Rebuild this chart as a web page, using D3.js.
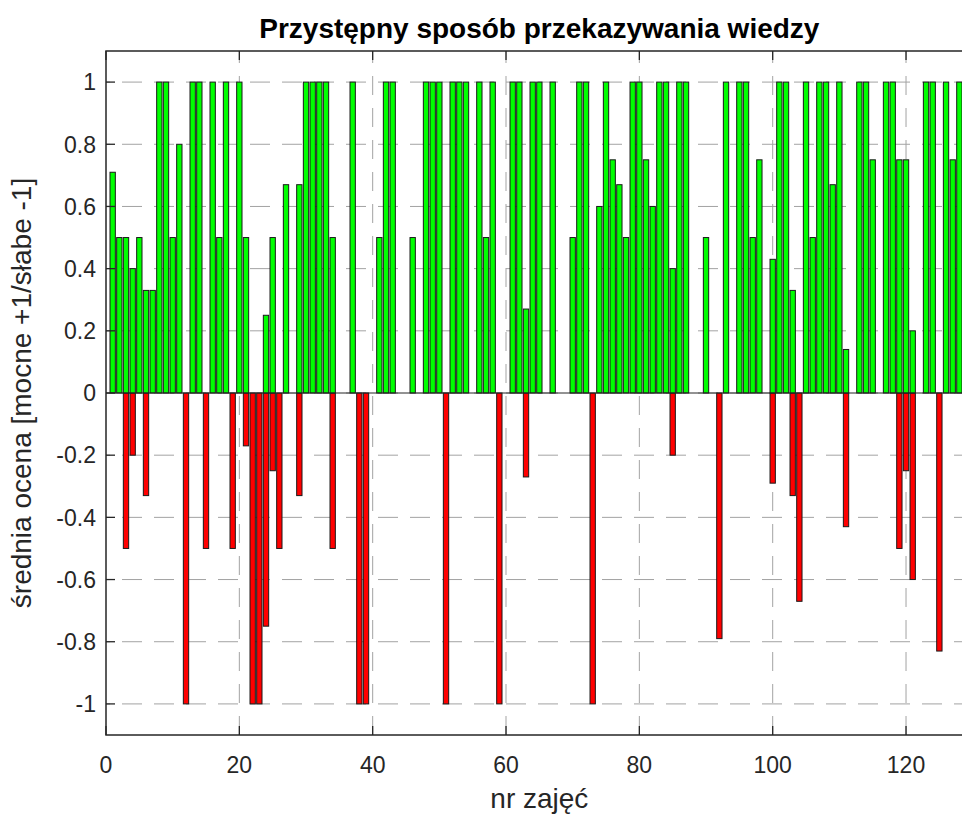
<!DOCTYPE html>
<html>
<head>
<meta charset="utf-8">
<script src="https://cdn.jsdelivr.net/npm/d3@7"></script>
<style>
  body { margin: 0; background: #fff; }
  text { font-family: "Liberation Sans", Arial, Helvetica, sans-serif; }
</style>
</head>
<body>
<div id="chart"></div>
<script>
// session n = index + 1
const plusVals = [
  0.71, 0.5, 0.5, 0.4, 0.5, 0.33, 0.33, 1, 1, 0.5,
  0.8, 0, 1, 1, 0, 1, 0.5, 1, 0, 1,
  0.5, 0, 0, 0.25, 0.5, 0, 0.67, 0, 0.67, 1,
  1, 1, 1, 0.5, 0, 0, 1, 0, 0, 0,
  0.5, 1, 1, 0, 0, 0.5, 0, 1, 1, 1,
  0, 1, 1, 1, 0, 1, 0.5, 1, 0, 0,
  1, 1, 0.27, 1, 1, 0, 1, 0, 0, 0.5,
  1, 1, 0, 0.6, 1, 0.75, 0.67, 0.5, 1, 1,
  0.75, 0.6, 1, 1, 0.4, 1, 1, 0, 0, 0.5,
  0, 0, 1, 0, 1, 1, 0.5, 0.75, 0, 0.43,
  1, 1, 0.33, 0, 1, 0.5, 1, 1, 0.67, 1,
  0.14, 0, 1, 1, 0.75, 0, 1, 1, 0.75, 0.75,
  0.2, 0, 1, 1, 0, 1, 0.75, 1
];
const minusVals = [
  0, 0, -0.5, -0.2, 0, -0.33, 0, 0, 0, 0,
  0, -1, 0, 0, -0.5, 0, 0, 0, -0.5, 0,
  -0.17, -1, -1, -0.75, -0.25, -0.5, 0, 0, -0.33, 0,
  0, 0, 0, -0.5, 0, 0, 0, -1, -1, 0,
  0, 0, 0, 0, 0, 0, 0, 0, 0, 0,
  -1, 0, 0, 0, 0, 0, 0, 0, -1, 0,
  0, 0, -0.27, 0, 0, 0, 0, 0, 0, 0,
  0, 0, -1, 0, 0, 0, 0, 0, 0, 0,
  0, 0, 0, 0, -0.2, 0, 0, 0, 0, 0,
  0, -0.79, 0, 0, 0, 0, 0, 0, 0, -0.29,
  0, 0, -0.33, -0.67, 0, 0, 0, 0, 0, 0,
  -0.43, 0, 0, 0, 0, 0, 0, 0, -0.5, -0.25,
  -0.6, 0, 0, 0, -0.83, 0, 0, 0
];
const xTicks = [0, 20, 40, 60, 80, 100, 120];
const yTicks = [-1, -0.8, -0.6, -0.4, -0.2, 0, 0.2, 0.4, 0.6, 0.8, 1];
const yTickLabels = ["-1", "-0.8", "-0.6", "-0.4", "-0.2", "0", "0.2", "0.4", "0.6", "0.8", "1"];
const titleText = "Przystępny sposób przekazywania wiedzy";
const xLabelText = "nr zajęć";
const yLabelText = "średnia ocena [mocne +1/słabe -1]";

const margin = {top: 51, left: 106};
const width = 866.7;
const height = 684;

const svg = d3.select("#chart").append("svg")
    .attr("width", 962)
    .attr("height", 816);

const chart = svg.append("g")
    .attr("transform", "translate(" + margin.left + "," + margin.top + ")");

const x = d3.scaleLinear().domain([0, 130]).range([0, width]);
const y = d3.scaleLinear().domain([-1.1, 1.1]).range([height, 0]);
const barW = x(0.8) - x(0);

// session number attached before dropping empty bars
const plusBars = plusVals.map((v, i) => ({n: i + 1, v: v})).filter(d => d.v !== 0);
const minusBars = minusVals.map((v, i) => ({n: i + 1, v: v})).filter(d => d.v !== 0);

// grid (behind bars)
const grid = chart.append("g")
    .attr("stroke", "#a3a3a3")
    .attr("stroke-width", 1)
    .attr("fill", "none");

grid.selectAll("line.h")
  .data(yTicks)
  .enter().append("line")
    .attr("class", "h")
    .attr("x1", 0).attr("x2", width)
    .attr("y1", d => y(d)).attr("y2", d => y(d))
    .attr("stroke-dasharray", "20,12")
    .attr("stroke-dashoffset", -16);

grid.selectAll("line.v")
  .data(xTicks.slice(1))
  .enter().append("line")
    .attr("class", "v")
    .attr("x1", d => x(d)).attr("x2", d => x(d))
    .attr("y1", height).attr("y2", 0)
    .attr("stroke-dasharray", "19,13");

// bars
chart.append("g")
  .selectAll("rect")
  .data(minusBars)
  .enter().append("rect")
    .attr("x", d => x(d.n) - barW / 2)
    .attr("y", y(0))
    .attr("width", barW)
    .attr("height", d => y(d.v) - y(0))
    .attr("fill", "#ff0000")
    .attr("stroke", "#1a1a1a")
    .attr("stroke-width", 1);

chart.append("g")
  .selectAll("rect")
  .data(plusBars)
  .enter().append("rect")
    .attr("x", d => x(d.n) - barW / 2)
    .attr("y", d => y(d.v))
    .attr("width", barW)
    .attr("height", d => y(0) - y(d.v))
    .attr("fill", "#00ff00")
    .attr("stroke", "#1a1a1a")
    .attr("stroke-width", 1);

// baseline
chart.append("line")
    .attr("x1", 0).attr("x2", width)
    .attr("y1", y(0)).attr("y2", y(0))
    .attr("stroke", "#262626")
    .attr("stroke-width", 1);

// axes box + inward ticks
const axisColor = "#262626";
chart.append("rect")
    .attr("x", 0).attr("y", 0)
    .attr("width", width).attr("height", height)
    .attr("fill", "none")
    .attr("stroke", axisColor)
    .attr("stroke-width", 1.5);

const tickLen = 9;
const ticks = chart.append("g").attr("stroke", axisColor).attr("stroke-width", 1.3);
ticks.selectAll("line.yl")
  .data(yTicks)
  .enter().append("line")
    .attr("x1", 0).attr("x2", tickLen)
    .attr("y1", d => y(d)).attr("y2", d => y(d));
ticks.selectAll("line.yr")
  .data(yTicks)
  .enter().append("line")
    .attr("x1", width).attr("x2", width - tickLen)
    .attr("y1", d => y(d)).attr("y2", d => y(d));
ticks.selectAll("line.xb")
  .data(xTicks)
  .enter().append("line")
    .attr("x1", d => x(d)).attr("x2", d => x(d))
    .attr("y1", height).attr("y2", height - tickLen);
ticks.selectAll("line.xt")
  .data(xTicks)
  .enter().append("line")
    .attr("x1", d => x(d)).attr("x2", d => x(d))
    .attr("y1", 0).attr("y2", tickLen);

// tick labels
chart.append("g")
    .attr("font-size", 23)
    .attr("fill", axisColor)
    .attr("text-anchor", "end")
  .selectAll("text")
  .data(yTicks)
  .enter().append("text")
    .attr("x", -10)
    .attr("y", d => y(d))
    .attr("dy", "0.36em")
    .text((d, i) => yTickLabels[i]);

chart.append("g")
    .attr("font-size", 23)
    .attr("fill", axisColor)
    .attr("text-anchor", "middle")
  .selectAll("text")
  .data(xTicks)
  .enter().append("text")
    .attr("x", d => x(d))
    .attr("y", height + 38)
    .text(d => d);

// labels & title
chart.append("text")
    .attr("x", width / 2)
    .attr("y", height + 73)
    .attr("text-anchor", "middle")
    .attr("font-size", 28)
    .attr("fill", axisColor)
    .text(xLabelText);

chart.append("text")
    .attr("transform", "translate(" + (-75) + "," + (height / 2) + ") rotate(-90)")
    .attr("text-anchor", "middle")
    .attr("font-size", 28)
    .attr("fill", axisColor)
    .text(yLabelText);

chart.append("text")
    .attr("x", width / 2)
    .attr("y", -13)
    .attr("text-anchor", "middle")
    .attr("font-size", 28)
    .attr("font-weight", "bold")
    .attr("fill", "#000")
    .text(titleText);
</script>
</body>
</html>
